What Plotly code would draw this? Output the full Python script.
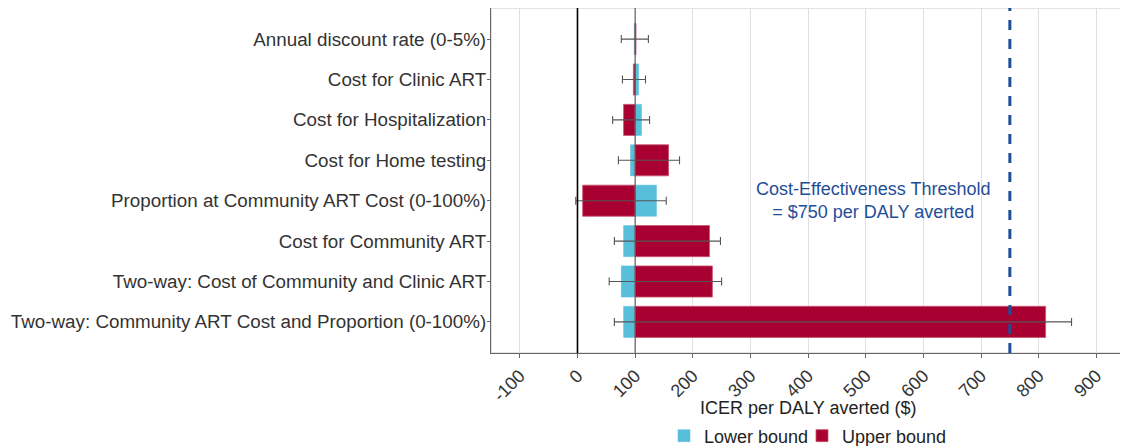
import plotly.graph_objects as go

# parameters, top to bottom as drawn
PARAMS = [
    "Annual discount rate (0-5%)",
    "Cost for Clinic ART",
    "Cost for Hospitalization",
    "Cost for Home testing",
    "Proportion at Community ART Cost (0-100%)",
    "Cost for Community ART",
    "Two-way: Cost of Community and Clinic ART",
    "Two-way: Community ART Cost and Proportion (0-100%)",
]
BASE_ICER = 100
LOWER_BOUND = [98.5, 106, 111, 92, 137, 80, 76, 80]
UPPER_BOUND = [101.5, 97, 80, 158, 9, 229, 234, 812]
ERR_LOW = [76, 78, 61, 71, -3, 64, 55, 64]
ERR_HIGH = [123, 118, 125, 177, 154, 248, 250, 857]
THRESHOLD = 750
X_TICKS = [-100, 0, 100, 200, 300, 400, 500, 600, 700, 800, 900]
X_TICK_LABELS = ["-100", "0", "100", "200", "300", "400", "500", "600", "700", "800", "900"]

BLUE = "#58BFDB"
RED = "#A80030"
NAVY = "#1F4E99"
FONT = "Liberation Sans, Arial, sans-serif"

# page has an 8px body margin, so the figure is sized to sit inside the window
FIG_W, FIG_H = 1120, 438
MARGIN = dict(l=483, r=4, t=0, b=93)
plot_w = FIG_W - MARGIN["l"] - MARGIN["r"]
plot_h = FIG_H - MARGIN["t"] - MARGIN["b"]

fig = go.Figure()
fig.add_trace(go.Bar(
    y=PARAMS, x=[v - BASE_ICER for v in LOWER_BOUND], base=BASE_ICER,
    orientation="h", name="Lower bound", width=0.77, legend="legend",
    marker=dict(color=BLUE, line=dict(color=BLUE, width=0.5)),
))
fig.add_trace(go.Bar(
    y=PARAMS, x=[v - BASE_ICER for v in UPPER_BOUND], base=BASE_ICER,
    orientation="h", name="Upper bound", width=0.77, legend="legend2",
    marker=dict(color=RED, line=dict(color="#C8566E", width=0.8)),
))
# whiskers: full range of the estimate around the base case
fig.add_trace(go.Scatter(
    y=PARAMS, x=[BASE_ICER] * len(PARAMS), mode="markers",
    marker=dict(size=1, color="rgba(0,0,0,0)"), showlegend=False, hoverinfo="skip",
    error_x=dict(type="data", symmetric=False,
                 array=[h - BASE_ICER for h in ERR_HIGH],
                 arrayminus=[BASE_ICER - l for l in ERR_LOW],
                 color="#555555", thickness=1.1, width=4),
))

fig.add_vline(x=0, line=dict(color="black", width=1.6), layer="above")
fig.add_vline(x=BASE_ICER, line=dict(color="#555555", width=1.1), layer="above")
fig.add_vline(x=THRESHOLD, line=dict(color=NAVY, width=3, dash="10px,9px"), layer="above")
fig.add_shape(type="rect", xref="paper", yref="paper", x0=0, x1=1, y0=0, y1=1,
              line=dict(color="#C8C8C8", width=1), layer="below")

fig.add_annotation(
    x=513, y=PARAMS[4], text="Cost-Effectiveness Threshold<br>= $750 per DALY averted",
    showarrow=False, font=dict(family=FONT, size=18, color=NAVY), align="center",
)
fig.add_annotation(
    x=0.5, y=(plot_h - 400) / plot_h, xref="paper", yref="paper",
    text="ICER per DALY averted ($)", showarrow=False, yanchor="middle",
    font=dict(family=FONT, size=18, color="#222222"),
)

legend_style = dict(orientation="h", xanchor="left", yref="container", y=0.023,
                    yanchor="middle", font=dict(size=18, color="#222222"),
                    itemwidth=30, bgcolor="rgba(0,0,0,0)")

fig.update_layout(
    width=FIG_W, height=FIG_H, margin=MARGIN,
    barmode="overlay", bargap=0.23,
    plot_bgcolor="white", paper_bgcolor="white",
    font=dict(family=FONT, size=18, color="#333333"),
    showlegend=True,
    legend=dict(x=(656 - MARGIN["l"]) / plot_w, **legend_style),
    legend2=dict(x=(794 - MARGIN["l"]) / plot_w, **legend_style),
    xaxis=dict(
        range=[-150, 948], tickvals=X_TICKS, ticktext=X_TICK_LABELS,
        tickangle=-45, automargin=False,
        showgrid=True, gridcolor="#E0E0E0", gridwidth=1, zeroline=False,
        showline=True, linecolor="#666666", linewidth=1.2,
        ticks="outside", ticklen=4, tickcolor="#666666",
        tickfont=dict(size=18, color="#333333"),
    ),
    yaxis=dict(
        categoryorder="array", categoryarray=PARAMS, automargin=False,
        range=[7.77, -0.77], showgrid=False, zeroline=False,
        showline=True, linecolor="#666666", linewidth=1.2,
        ticks="outside", ticklen=3, tickcolor="#666666", ticklabelstandoff=-3,
        tickfont=dict(size=18.8, color="#333333"),
    ),
)

fig.write_html("out.html")
